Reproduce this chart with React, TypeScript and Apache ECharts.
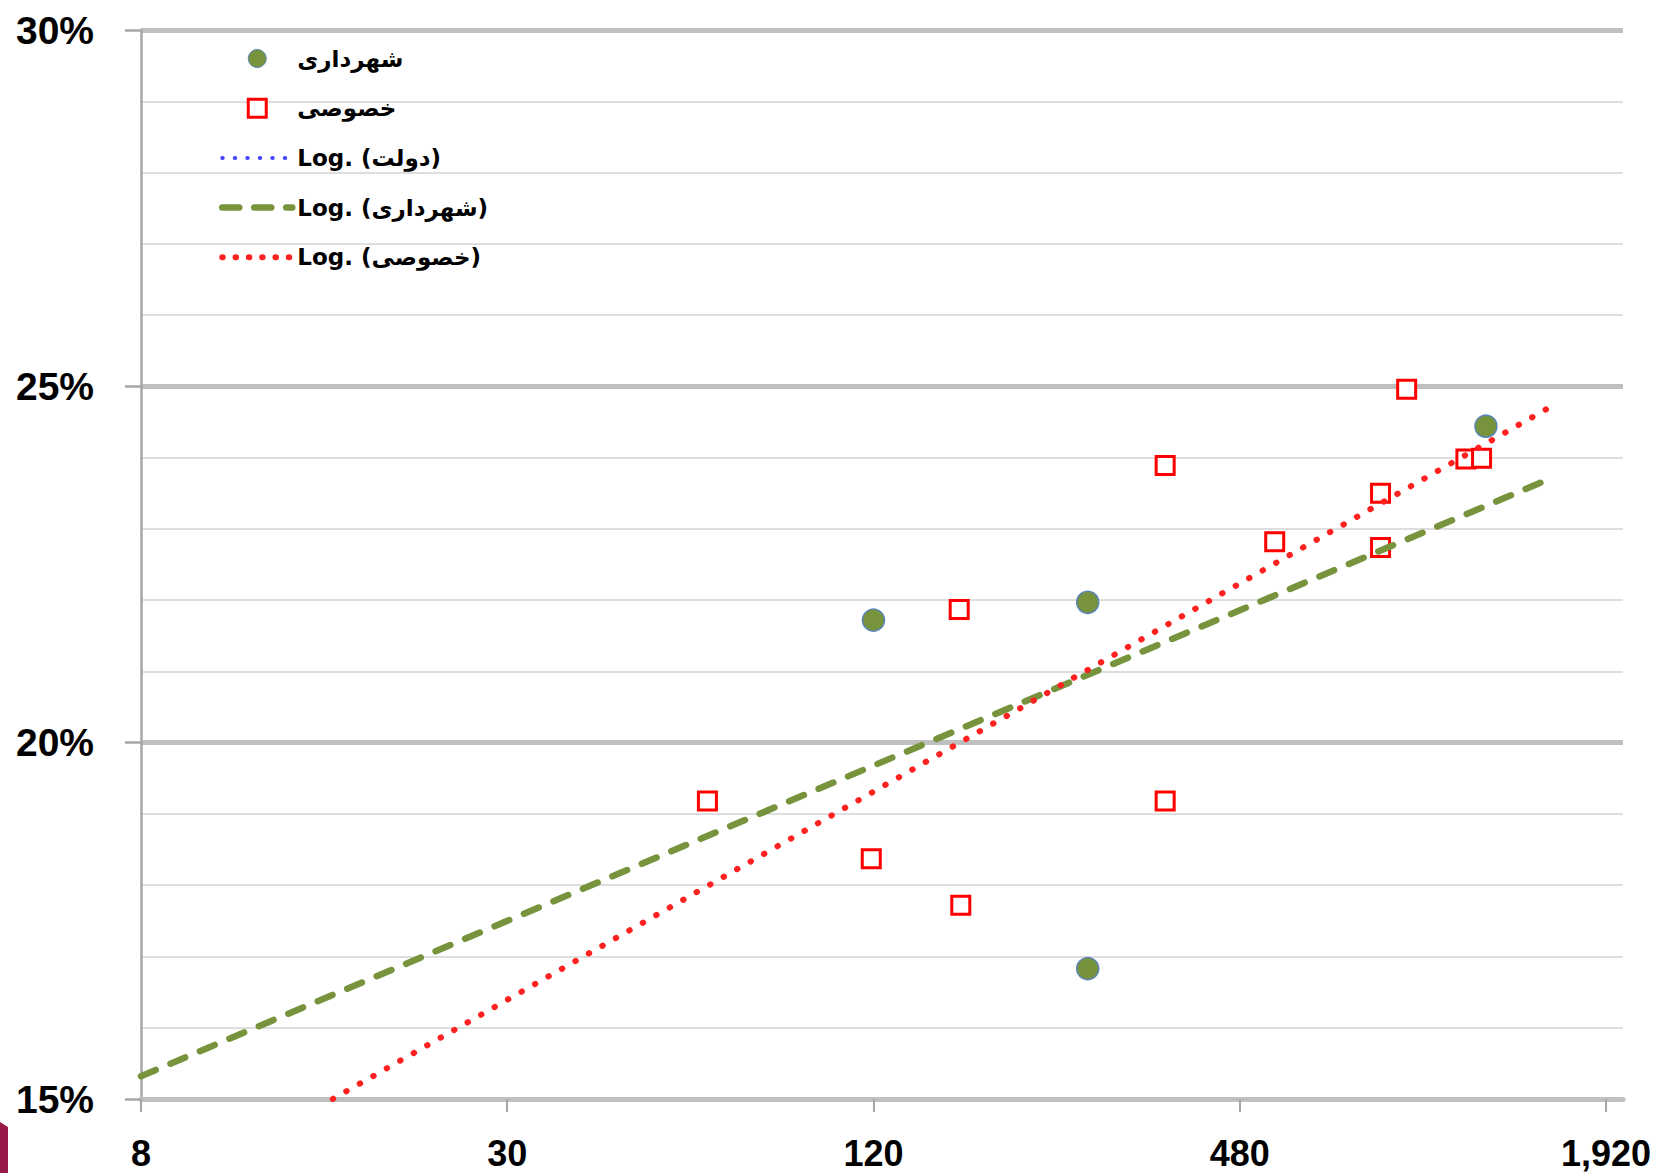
import React, { useEffect, useRef } from 'react';
import * as echarts from 'echarts';

// ---- data ----
const municipalName = 'شهرداری';
const privateName = 'خصوصی';
const govTrendName = 'Log. (دولت)';
const municipalTrendName = 'Log. (شهرداری)';
const privateTrendName = 'Log. (خصوصی)';

const municipalX = [120, 270, 270, 1219];
const municipalY = [21.72, 21.97, 16.83, 24.44];

const privateX = [64, 119, 166, 167, 362, 362, 548, 818, 818, 903, 1130, 1199];
const privateY = [19.18, 18.37, 21.87, 17.72, 19.18, 23.89, 22.82, 23.5, 22.74, 24.96, 23.98, 23.99];

const govTrendX: number[] = [];
const govTrendY: number[] = [];
const municipalTrendX = [7.5, 1540];
const municipalTrendY = [15.32, 23.69];
const privateTrendX = [15.5, 1540];
const privateTrendY = [15.0, 24.69];

const xTickValues = [7.5, 30, 120, 480, 1920];
const xMin = 7.5;
const xMax = 2048;
const yMin = 15;
const yMax = 30;
const yInterval = 5;

const zip = (xs: number[], ys: number[]) => xs.map((x, i) => [x, ys[i]]);

const FONT = "'Liberation Sans', Arial, 'DejaVu Sans', sans-serif";
const LEGEND_FONT = "'DejaVu Sans', 'Liberation Sans', sans-serif";
const GREEN = '#77933C';
const RED = '#ff2020';
const BLUE = '#4646ff';

export default function App() {
  const ref = useRef<HTMLDivElement>(null);

  useEffect(() => {
    if (!ref.current) return;
    const chart = echarts.init(ref.current, undefined, { renderer: 'svg' });
    const option: any = {
      animation: false,
      backgroundColor: '#ffffff',
      grid: { left: 141, top: 30, right: 37, bottom: 74 },
      legend: {
        orient: 'vertical',
        left: 219,
        top: 47,
        padding: 0,
        itemWidth: 70,
        itemHeight: 18,
        itemGap: 26.7,
        selectedMode: false,
        textStyle: { fontSize: 23, fontWeight: 'bold', color: '#000', fontFamily: LEGEND_FONT },
        data: [
          {
            name: municipalName,
            icon: 'circle',
            itemStyle: { color: GREEN, borderColor: '#5a85b5', borderWidth: 1 },
          },
          {
            name: privateName,
            icon: 'path://M0,0L10,0L10,10L0,10Z',
            itemStyle: { color: '#ffffff', borderColor: '#ff0000', borderWidth: 3 },
          },
          { name: govTrendName, itemStyle: { opacity: 0 }, lineStyle: { color: BLUE, width: 4, type: [0.5, 12], cap: 'round' } },
          { name: municipalTrendName, itemStyle: { opacity: 0 }, lineStyle: { color: GREEN, width: 6.5, type: [17, 15], cap: 'round' } },
          { name: privateTrendName, itemStyle: { opacity: 0 }, lineStyle: { color: RED, width: 6, type: [0.5, 12.8], cap: 'round' } },
        ],
      },
      xAxis: {
        type: 'log',
        logBase: 4,
        min: xMin,
        max: xMax,
        axisLine: { show: true, onZero: false, lineStyle: { color: '#bfbfbf', width: 5 } },
        axisTick: { show: true, customValues: xTickValues, length: 13, lineStyle: { color: '#a6a6a6', width: 2 } },
        axisLabel: {
          customValues: xTickValues,
          formatter: (v: number) => Math.round(v).toLocaleString('en-US'),
          margin: 39,
          fontSize: 36,
          lineHeight: 30,
          fontWeight: 'bold',
          color: '#000',
          fontFamily: FONT,
        },
        splitLine: { show: false },
      },
      yAxis: {
        type: 'value',
        min: yMin,
        max: yMax,
        interval: yInterval,
        axisLine: { show: true, lineStyle: { color: '#a6a6a6', width: 2.5 } },
        axisTick: { show: true, length: 16, lineStyle: { color: '#a6a6a6', width: 2.5 } },
        axisLabel: {
          formatter: '{value}%',
          margin: 47,
          fontSize: 39,
          fontWeight: 'bold',
          color: '#000',
          fontFamily: FONT,
        },
        splitLine: { show: true, lineStyle: { color: '#bfbfbf', width: 5 } },
        minorTick: { show: false, splitNumber: 5 },
        minorSplitLine: { show: true, lineStyle: { color: '#dedede', width: 2 } },
      },
      series: [
        {
          name: municipalName,
          type: 'scatter',
          data: zip(municipalX, municipalY),
          symbol: 'circle',
          symbolSize: 22,
          itemStyle: { color: GREEN, borderColor: '#5a85b5', borderWidth: 1.5, opacity: 1 },
        },
        {
          name: privateName,
          type: 'scatter',
          data: zip(privateX, privateY),
          symbol: 'rect',
          symbolSize: 18,
          itemStyle: { color: '#ffffff', borderColor: '#ff0000', borderWidth: 3, opacity: 1 },
        },
        {
          name: govTrendName,
          type: 'line',
          data: zip(govTrendX, govTrendY),
          symbol: 'none',
          itemStyle: { color: BLUE },
          lineStyle: { color: BLUE, width: 4, type: [0.5, 12], cap: 'round' },
        },
        {
          name: municipalTrendName,
          type: 'line',
          data: zip(municipalTrendX, municipalTrendY),
          symbol: 'none',
          itemStyle: { color: GREEN },
          lineStyle: { color: GREEN, width: 6.5, type: [16, 16], cap: 'round' },
        },
        {
          name: privateTrendName,
          type: 'line',
          data: zip(privateTrendX, privateTrendY),
          symbol: 'none',
          itemStyle: { color: RED },
          lineStyle: { color: RED, width: 6, type: [0.5, 15], cap: 'round' },
        },
      ],
      graphic: [
        {
          type: 'polygon',
          shape: { points: [[0, 1122], [8, 1127], [8, 1173], [0, 1173]] },
          style: { fill: '#981a48' },
        },
      ],
    };
    chart.setOption(option);
    return () => chart.dispose();
  }, []);

  return (
    <div
      ref={ref}
      style={{ position: 'fixed', left: 0, top: 0, width: 1660, height: 1173, background: '#fff' }}
    />
  );
}
